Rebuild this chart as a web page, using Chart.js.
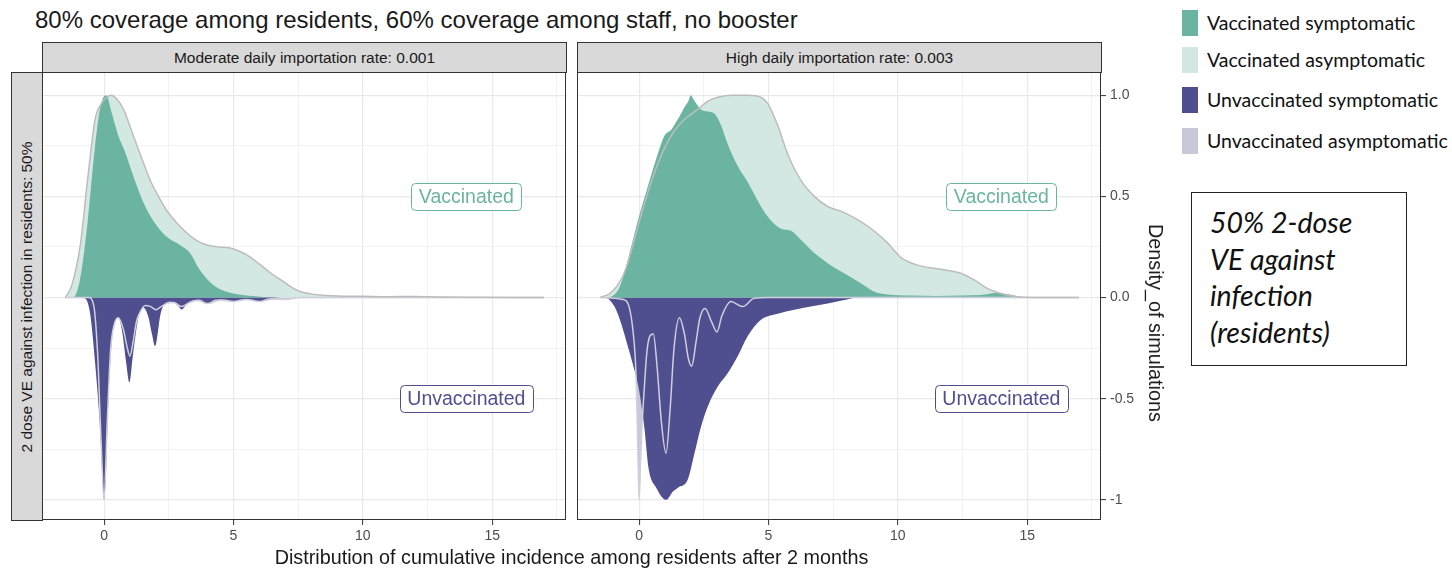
<!DOCTYPE html>
<html>
<head>
<meta charset="utf-8">
<title>Cumulative incidence among residents after 2 months</title>
<script src="https://cdn.jsdelivr.net/npm/chart.js@4.4.1/dist/chart.umd.min.js"></script>
<style>
  html, body { margin:0; padding:0; background:#fff; }
  #figure { position:relative; width:1452px; height:568px; overflow:hidden;
            font-family:"Liberation Sans", Arial, sans-serif; color:#1a1a1a; }
  #figure > * { position:absolute; }
  #title { left:35px; top:6px; font-size:24px; line-height:28px; white-space:nowrap; }
  .strip { background:#d9d9d9; border:1px solid #333; box-sizing:border-box; font-size:15.5px;
           color:#1a1a1a; display:flex; align-items:center; justify-content:center; white-space:nowrap; }
  #strip-mod  { left:42px;  top:42px; width:525px; height:31px; }
  #strip-high { left:577px; top:42px; width:525px; height:31px; }
  #strip-row  { left:11px;  top:72px; width:32px;  height:449px; }
  #strip-row span { display:inline-block; transform:rotate(-90deg); }
  #c-mod  { left:42px;  top:72px; }
  #c-high { left:577px; top:72px; }
  #xtitle { left:42px; width:1059px; top:546px; text-align:center; font-size:19.8px; line-height:22px; white-space:nowrap; }
  #ytitle { left:1156px; top:323px; font-size:19.8px; line-height:22px; white-space:nowrap;
            transform:translate(-50%, -50%) rotate(90deg); }
  .key { left:1182px; width:16px; height:26px; }
  .key-text { left:1207px; font-family:Lato, "Open Sans", sans-serif; font-size:19.5px; line-height:26px;
              white-space:nowrap; color:#111; }
  #note { left:1191px; top:192px; width:216px; height:174px; border:1px solid #222; box-sizing:border-box;
          padding:11px 0 0 18px; font-family:Lato, "Open Sans", sans-serif; font-style:italic;
          font-size:28.5px; line-height:36.7px; color:#111; white-space:nowrap; }
</style>
</head>
<body>
<div id="figure">
  <div id="title">80% coverage among residents, 60% coverage among staff, no booster</div>
  <div id="strip-mod" class="strip">Moderate daily importation rate: 0.001</div>
  <div id="strip-high" class="strip">High daily importation rate: 0.003</div>
  <div id="strip-row" class="strip"><span>2 dose VE against infection in residents: 50%</span></div>
  <canvas id="c-mod" width="524" height="478"></canvas>
  <canvas id="c-high" width="572" height="478"></canvas>
  <div id="xtitle">Distribution of cumulative incidence among residents after 2 months</div>
  <div id="ytitle">Density_of simulations</div>
  <div id="note">50% 2-dose<br>VE against<br>infection<br>(residents)</div>
</div>
<script>
// ---- Scaled densities (positive = vaccinated, negative = unvaccinated) ----
// Moderate daily importation rate: 0.001
const modVaxAsymX = [-1.5, -1.25, -0.93, -0.64, -0.35, -0.1, 0.1, 0.27, 0.5, 0.75, 1.13, 1.45, 1.78, 2.1, 2.42, 2.8, 3.19, 3.6, 3.97, 4.4, 4.86, 5.38, 5.75, 6.15, 6.5, 6.92, 7.25, 7.57, 8.0, 8.34, 9.0, 10.0, 11.0, 12.0, 13.0, 14.0, 17.0];
const modVaxAsymY = [0, 0.06, 0.25, 0.58, 0.88, 0.96, 0.99, 1.0, 0.98, 0.93, 0.80, 0.69, 0.58, 0.50, 0.43, 0.37, 0.32, 0.28, 0.26, 0.25, 0.245, 0.22, 0.19, 0.15, 0.115, 0.08, 0.05, 0.03, 0.018, 0.012, 0.008, 0.006, 0.004, 0.005, 0.002, 0.001, 0];

const modVaxSymX = [-1.5, -1.2, -0.93, -0.64, -0.35, -0.15, 0.08, 0.3, 0.55, 0.81, 1.13, 1.52, 1.9, 2.42, 2.93, 3.32, 3.7, 4.22, 4.6, 5.0, 5.77, 6.5, 17.0];
const modVaxSymY = [0, 0, 0.09, 0.37, 0.75, 0.94, 1.0, 0.91, 0.80, 0.72, 0.60, 0.47, 0.38, 0.30, 0.26, 0.22, 0.136, 0.062, 0.035, 0.02, 0.007, 0, 0];

const modUnvaxSymX = [-1.5, -0.9, -0.73, -0.54, -0.35, -0.15, -0.05, 0, 0.08, 0.17, 0.3, 0.45, 0.55, 0.7, 0.85, 0.98, 1.1, 1.2, 1.33, 1.52, 1.71, 1.85, 1.97, 2.08, 2.16, 2.36, 2.6, 2.85, 3.0, 3.15, 3.4, 3.7, 4.0, 4.3, 4.7, 5.0, 5.3, 5.7, 5.95, 6.3, 7.0, 17.0];
const modUnvaxSymY = [0, 0, -0.005, -0.08, -0.32, -0.66, -0.92, -1.0, -0.84, -0.49, -0.21, -0.11, -0.10, -0.17, -0.32, -0.42, -0.30, -0.20, -0.095, -0.05, -0.095, -0.18, -0.24, -0.17, -0.095, -0.03, -0.02, -0.04, -0.06, -0.04, -0.015, -0.01, -0.03, -0.01, -0.01, -0.02, -0.01, -0.01, -0.02, -0.005, 0, 0];

const modUnvaxAsymX = [-1.5, -0.6, -0.4, -0.25, -0.12, 0, 0.12, 0.25, 0.4, 0.55, 0.75, 0.88, 1.0, 1.12, 1.25, 1.4, 1.6, 1.8, 2.0, 2.2, 2.4, 2.7, 3.0, 3.3, 3.6, 4.0, 4.5, 5.0, 5.5, 6.0, 6.5, 7.0, 7.6, 17.0];
const modUnvaxAsymY = [0, 0, -0.04, -0.28, -0.7, -1.0, -0.62, -0.26, -0.13, -0.10, -0.16, -0.24, -0.29, -0.22, -0.12, -0.07, -0.04, -0.045, -0.06, -0.045, -0.03, -0.025, -0.045, -0.025, -0.015, -0.03, -0.012, -0.02, -0.01, -0.02, -0.008, -0.01, 0, 0];

// High daily importation rate: 0.003
const highVaxAsymX = [-1.5, -1.08, -0.69, -0.44, -0.05, 0.34, 0.72, 1.24, 1.75, 2.27, 2.65, 3.04, 3.6, 4.2, 4.7, 4.97, 5.36, 5.74, 6.25, 6.77, 7.29, 7.93, 8.57, 9.07, 9.6, 10.1, 10.76, 11.66, 12.43, 12.95, 13.46, 13.98, 14.6, 15.2, 17.0];
const highVaxAsymY = [0, 0.025, 0.09, 0.17, 0.35, 0.52, 0.66, 0.80, 0.88, 0.93, 0.97, 0.99, 1.0, 1.0, 0.99, 0.96, 0.85, 0.71, 0.58, 0.50, 0.45, 0.42, 0.375, 0.33, 0.27, 0.20, 0.16, 0.14, 0.12, 0.087, 0.045, 0.02, 0.004, 0, 0];

const highVaxSymX = [-1.5, -1.34, -0.82, -0.57, -0.31, -0.05, 0.34, 0.72, 0.98, 1.24, 1.49, 1.75, 1.9, 2.0, 2.1, 2.2, 2.39, 2.65, 2.91, 3.17, 3.42, 3.81, 4.2, 4.58, 4.97, 5.48, 5.87, 6.25, 6.77, 7.29, 7.93, 8.57, 9.07, 9.6, 10.5, 11.5, 12.5, 13.2, 13.8, 14.3, 14.8, 15.3, 17.0];
const highVaxSymY = [0, 0, 0.035, 0.12, 0.25, 0.38, 0.55, 0.71, 0.80, 0.83, 0.88, 0.94, 0.97, 1.0, 0.98, 0.96, 0.93, 0.92, 0.91, 0.85, 0.76, 0.65, 0.57, 0.48, 0.40, 0.34, 0.33, 0.285, 0.22, 0.17, 0.12, 0.07, 0.03, 0.015, 0.01, 0.008, 0.01, 0.012, 0.022, 0.015, 0.003, 0, 0];

const highUnvaxSymX = [-1.5, -1.34, -0.95, -0.69, -0.44, -0.18, 0, 0.2, 0.36, 0.66, 1.05, 1.3, 1.5, 1.88, 2.14, 2.39, 2.65, 3.04, 3.42, 3.81, 4.2, 4.71, 5.36, 6.0, 6.64, 7.29, 7.93, 8.5, 17.0];
const highUnvaxSymY = [0, 0, -0.045, -0.13, -0.24, -0.36, -0.46, -0.64, -0.84, -0.94, -1.0, -0.96, -0.94, -0.90, -0.77, -0.64, -0.54, -0.44, -0.375, -0.29, -0.19, -0.11, -0.08, -0.06, -0.045, -0.03, -0.012, 0, 0];

const highUnvaxAsymX = [-1.5, -0.6, -0.4, -0.25, -0.12, -0.05, 0, 0.06, 0.12, 0.2, 0.3, 0.42, 0.55, 0.7, 0.85, 1.04, 1.2, 1.35, 1.56, 1.75, 1.9, 2.03, 2.2, 2.35, 2.55, 2.8, 3.01, 3.2, 3.55, 4.0, 4.45, 5.0, 17.0];
const highUnvaxAsymY = [0, -0.01, -0.04, -0.15, -0.38, -0.75, -1.0, -0.8, -0.62, -0.45, -0.27, -0.19, -0.18, -0.35, -0.6, -0.77, -0.55, -0.25, -0.10, -0.18, -0.30, -0.34, -0.22, -0.10, -0.054, -0.12, -0.17, -0.09, -0.02, -0.045, -0.004, 0, 0];

// ---- Axes ----
const xTickValues = [0, 5, 10, 15];
const yTickValues = [-1, -0.5, 0, 0.5, 1];
const yTickLabels = ['-1', '-0.5', '0.0', '0.5', '1.0'];
const X_MIN = -2.4, X_MAX = 17.85;
const Y_MIN = -1.1, Y_MAX = 1.115;

// ---- Group labels inside each panel ----
const groupNames = ['Vaccinated', 'Unvaccinated'];
const groupLabelX = 14;
const groupLabelY = [0.5, -0.5];

// ---- Legend ----
const legendNames = ['Vaccinated symptomatic', 'Vaccinated asymptomatic', 'Unvaccinated symptomatic', 'Unvaccinated asymptomatic'];

const COLORS = {
  vaxSym: '#6cb4a2',
  vaxAsym: '#d3e8e2',
  unvaxSym: '#4f4f8f',
  unvaxAsym: '#c8c8d9',
  vaxAsymLine: '#bdbdbd',
  unvaxAsymLine: '#cfcfdd',
  grid: '#e9e9e9',
  frame: '#333333',
  tickText: '#4d4d4d'
};
const legendColors = [COLORS.vaxSym, COLORS.vaxAsym, COLORS.unvaxSym, COLORS.unvaxAsym];

// legend entries
(function buildLegend() {
  const fig = document.getElementById('figure');
  const keyTops = [10, 47, 87, 128];
  legendNames.forEach((name, i) => {
    const sw = document.createElement('div');
    sw.className = 'key';
    sw.style.top = keyTops[i] + 'px';
    sw.style.background = legendColors[i];
    fig.appendChild(sw);
    const tx = document.createElement('div');
    tx.className = 'key-text';
    tx.style.top = keyTops[i] + 'px';
    tx.textContent = name;
    fig.appendChild(tx);
  });
})();

const pts = (xs, ys) => xs.map((x, i) => ({ x, y: ys[i] }));
const near = (arr, v) => arr.some(a => Math.abs(a - v) < 1e-9);
const xMinor = xTickValues.map(v => v + 2.5).filter(v => v < X_MAX);
const yMinor = yTickValues.slice(1).map((v, i) => (v + yTickValues[i]) / 2);

function area(data, color, order) {
  return { data, order, backgroundColor: color, borderColor: color, borderWidth: 0,
           fill: 'origin', pointRadius: 0, cubicInterpolationMode: 'monotone' };
}
function outline(data, color, order) {
  return { data, order, borderColor: color, borderWidth: 1.5, fill: false,
           pointRadius: 0, cubicInterpolationMode: 'monotone' };
}

const groupLabelPlugin = {
  id: 'groupLabels',
  afterDatasetsDraw(chart) {
    const { ctx, scales: { x, y } } = chart;
    const colors = [COLORS.vaxSym, COLORS.unvaxSym];
    ctx.save();
    ctx.font = '19.5px "Liberation Sans", Arial, sans-serif';
    ctx.textAlign = 'center';
    ctx.textBaseline = 'middle';
    groupNames.forEach((name, i) => {
      const cx = x.getPixelForValue(groupLabelX);
      const cy = y.getPixelForValue(groupLabelY[i]);
      const w = ctx.measureText(name).width + 15, h = 27;
      ctx.beginPath();
      ctx.roundRect(Math.round(cx - w / 2) + 0.5, Math.round(cy - h / 2) + 0.5, Math.round(w), h, 4);
      ctx.fillStyle = '#ffffff';
      ctx.fill();
      ctx.strokeStyle = colors[i];
      ctx.lineWidth = 1;
      ctx.stroke();
      ctx.fillStyle = colors[i];
      ctx.fillText(name, cx, cy + 1);
    });
    ctx.restore();
  }
};

const framePlugin = {
  id: 'panelFrame',
  afterDraw(chart) {
    const { ctx, chartArea: a } = chart;
    ctx.save();
    ctx.strokeStyle = COLORS.frame;
    ctx.lineWidth = 1;
    ctx.strokeRect(a.left + 0.5, a.top + 0.5, a.right - a.left - 1, a.bottom - a.top - 1);
    ctx.restore();
  }
};

function noPadding(sc) {
  sc.paddingTop = 0; sc.paddingBottom = 0; sc.paddingLeft = 0; sc.paddingRight = 0;
}

Chart.defaults.font.family = '"Liberation Sans", Arial, sans-serif';

function panelChart(id, s, withAxis) {
  const xScale = {
    type: 'linear', min: X_MIN, max: X_MAX,
    afterBuildTicks: sc => {
      sc.ticks = [...xTickValues, ...xMinor].sort((a, b) => a - b).map(value => ({ value }));
    },
    ticks: { autoSkip: false, maxRotation: 0, padding: 3, color: COLORS.tickText, font: { size: 14 },
             callback: v => near(xTickValues, v) ? String(v) : '' },
    grid: { color: COLORS.grid,
            lineWidth: c => near(xTickValues, c.tick.value) ? 1.2 : 0.6,
            tickColor: c => near(xTickValues, c.tick.value) ? COLORS.frame : 'rgba(0,0,0,0)',
            tickLength: 5, tickWidth: 1 },
    border: { display: false },
    afterFit: sc => { sc.height = 30; noPadding(sc); }
  };
  const yScale = {
    type: 'linear', min: Y_MIN, max: Y_MAX, position: withAxis ? 'right' : 'left',
    afterBuildTicks: sc => {
      sc.ticks = [...yTickValues, ...yMinor].sort((a, b) => a - b).map(value => ({ value }));
    },
    ticks: { display: withAxis, autoSkip: false, padding: 4, color: COLORS.tickText, font: { size: 14 },
             callback: v => { const i = yTickValues.findIndex(a => Math.abs(a - v) < 1e-9); return i >= 0 ? yTickLabels[i] : ''; } },
    grid: { color: COLORS.grid,
            lineWidth: c => near(yTickValues, c.tick.value) ? 1.2 : 0.6,
            drawTicks: withAxis,
            tickColor: c => near(yTickValues, c.tick.value) ? COLORS.frame : 'rgba(0,0,0,0)',
            tickLength: 5, tickWidth: 1 },
    border: { display: false },
    afterFit: sc => { sc.width = withAxis ? 48 : 0; noPadding(sc); }
  };

  return new Chart(document.getElementById(id), {
    type: 'line',
    data: {
      datasets: [
        area(pts(s.vaxAsymX, s.vaxAsymY), COLORS.vaxAsym, 5),
        area(pts(s.unvaxAsymX, s.unvaxAsymY), COLORS.unvaxAsym, 5),
        area(pts(s.vaxSymX, s.vaxSymY), COLORS.vaxSym, 4),
        area(pts(s.unvaxSymX, s.unvaxSymY), COLORS.unvaxSym, 4),
        outline(pts(s.unvaxAsymX, s.unvaxAsymY), COLORS.unvaxAsymLine, 2),
        outline(pts(s.vaxAsymX, s.vaxAsymY), COLORS.vaxAsymLine, 1)
      ]
    },
    options: {
      responsive: false, animation: false, devicePixelRatio: 1,
      layout: { padding: 0 },
      plugins: { legend: { display: false }, tooltip: { enabled: false } },
      scales: { x: xScale, y: yScale }
    },
    plugins: [groupLabelPlugin, framePlugin]
  });
}

panelChart('c-mod', {
  vaxAsymX: modVaxAsymX, vaxAsymY: modVaxAsymY, vaxSymX: modVaxSymX, vaxSymY: modVaxSymY,
  unvaxAsymX: modUnvaxAsymX, unvaxAsymY: modUnvaxAsymY, unvaxSymX: modUnvaxSymX, unvaxSymY: modUnvaxSymY
}, false);

panelChart('c-high', {
  vaxAsymX: highVaxAsymX, vaxAsymY: highVaxAsymY, vaxSymX: highVaxSymX, vaxSymY: highVaxSymY,
  unvaxAsymX: highUnvaxAsymX, unvaxAsymY: highUnvaxAsymY, unvaxSymX: highUnvaxSymX, unvaxSymY: highUnvaxSymY
}, true);
</script>
</body>
</html>
